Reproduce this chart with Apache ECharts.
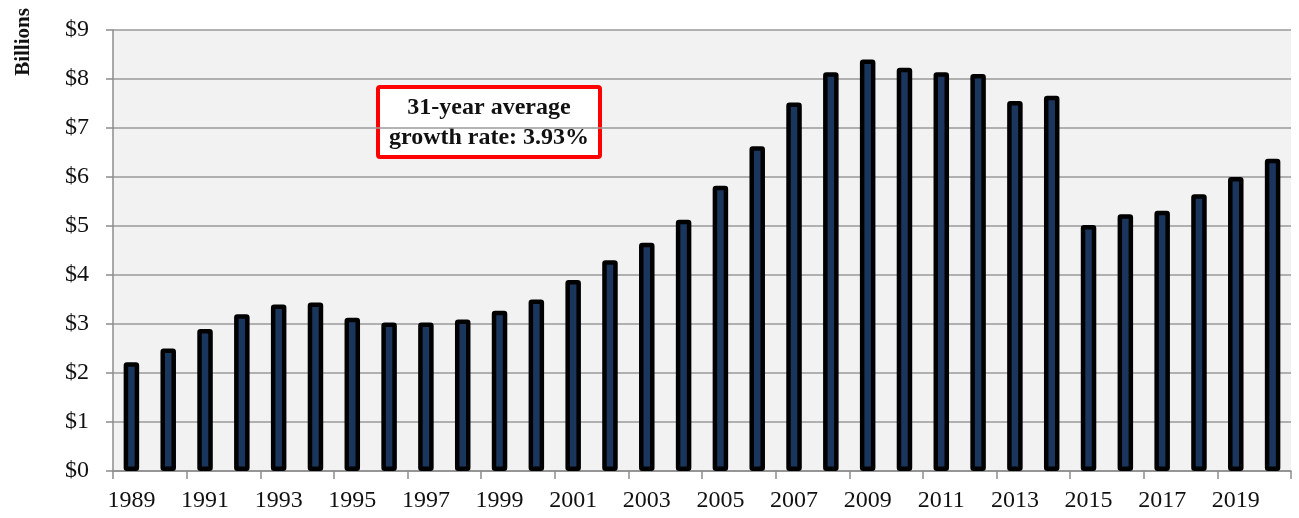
<!DOCTYPE html>
<html>
<head>
<meta charset="utf-8">
<script src="https://cdn.jsdelivr.net/npm/echarts@6/dist/echarts.min.js"></script>
<style>
  html, body { margin: 0; padding: 0; background: #fff; }
  #chart { width: 1299px; height: 518px; }
</style>
</head>
<body>
<div id="chart"></div>
<script>
// years 1989-2020
const years = []
for (let y = 1989; y <= 2020; y++) years.push(String(y))

// billions of dollars
const values = [
  2.22, 2.50, 2.90, 3.20, 3.40, 3.44, 3.13, 3.03, 3.03, 3.09,
  3.27, 3.50, 3.90, 4.30, 4.66, 5.13, 5.82, 6.63, 7.52, 8.14,
  8.40, 8.23, 8.14, 8.10, 7.55, 7.66, 5.02, 5.24, 5.31, 5.65,
  6.00, 6.37
]

const yTicks = [0, 1, 2, 3, 4, 5, 6, 7, 8, 9]
const yName = 'Billions'
const noteLines = ['31-year average', 'growth rate: 3.93%']

const serif = '"Liberation Serif", "DejaVu Serif", serif'

const chart = echarts.init(document.getElementById('chart'))
chart.setOption({
  animation: false,
  grid: {
    left: 113,
    right: 8,
    top: 30,
    bottom: 47,
    show: true,
    backgroundColor: '#f2f2f2',
    borderWidth: 0,
  },
  xAxis: {
    type: 'category',
    data: years,
    axisLine: { show: true, lineStyle: { color: '#8c8c8c', width: 1.5 } },
    axisTick: { show: true, interval: 1, length: 8, lineStyle: { color: '#8c8c8c', width: 1.5 } },
    axisLabel: {
      interval: 1,
      color: '#111',
      fontFamily: serif,
      fontSize: 24,
      margin: 18,
    },
  },
  yAxis: {
    type: 'value',
    min: yTicks[0],
    max: yTicks[yTicks.length - 1],
    interval: 1,
    axisLine: { show: true, lineStyle: { color: '#8c8c8c', width: 1.5 } },
    axisTick: { show: true, length: 7, lineStyle: { color: '#8c8c8c', width: 1.5 } },
    axisLabel: {
      color: '#111',
      fontFamily: serif,
      fontSize: 24,
      margin: 24,
      formatter: (v) => '$' + v,
    },
    splitLine: { show: true, lineStyle: { color: '#9a9a9a', width: 1.5 } },
  },
  series: [
    {
      type: 'bar',
      data: values,
      barWidth: 15.5,
      itemStyle: {
        color: '#1b365d',
        borderColor: '#000',
        borderWidth: 4.5,
        borderRadius: 1,
      },
    },
  ],
  graphic: [
    {
      type: 'text',
      x: 24,
      y: 42,
      rotation: Math.PI / 2,
      style: {
        text: yName,
        fill: '#111',
        font: 'bold 21px ' + serif,
        align: 'center',
        verticalAlign: 'middle',
      },
    },
    {
      type: 'group',
      left: 376,
      top: 85,
      children: [
        {
          type: 'rect',
          shape: { x: 0, y: 0, width: 222, height: 70, r: 2 },
          style: { fill: '#fff', stroke: '#f00', lineWidth: 4 },
        },
        {
          type: 'text',
          x: 111,
          y: 36,
          style: {
            text: noteLines.join('\n'),
            fill: '#111',
            font: 'bold 24px ' + serif,
            align: 'center',
            verticalAlign: 'middle',
            lineHeight: 30,
          },
        },
      ],
    },
  ],
})
</script>
</body>
</html>
